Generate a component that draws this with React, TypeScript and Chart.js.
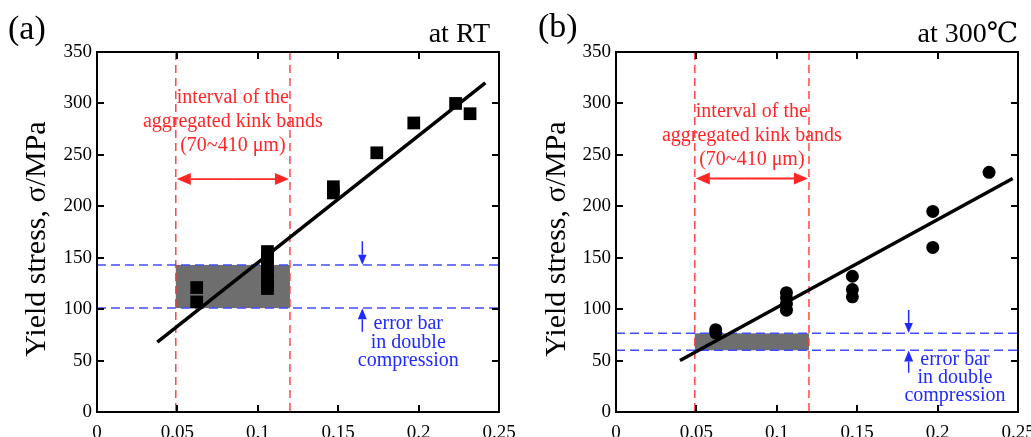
import { useEffect, useRef } from "react";
import { Chart, registerables } from "chart.js";

Chart.register(...registerables);

// ---------- data ----------
const xTicks = [0, 0.05, 0.1, 0.15, 0.2, 0.25];
const yTicks = [0, 50, 100, 150, 200, 250, 300, 350];

// (a) at RT
const rtX = [0.062, 0.062, 0.106, 0.106, 0.106, 0.106, 0.106, 0.106, 0.106, 0.147, 0.147, 0.174, 0.197, 0.223, 0.232];
const rtY = [121, 107, 156, 150, 143, 136, 129, 123, 120, 219, 213, 252, 281, 300, 290];
const rtFitX = [0.0375, 0.2415];
const rtFitY = [68, 320];
const rtKinkX = [0.049, 0.12];
const rtErrY = [101, 143];

// (b) at 300 ℃
const htX = [0.062, 0.062, 0.106, 0.106, 0.106, 0.106, 0.147, 0.147, 0.147, 0.197, 0.197, 0.232];
const htY = [80, 77, 116, 111, 105, 99, 132, 119, 112, 195, 160, 233];
const htFitX = [0.0398, 0.2467];
const htFitY = [50, 227];
const htKinkX = [0.049, 0.12];
const htErrY = [60, 76.5];

const kinkLabel = ["interval of the", "aggregated kink bands", "(70~410 μm)"];
const errLabel = ["error bar", "in double", "compression"];
const yTitle = "Yield stress, σ/MPa";

// ---------- styles ----------
const SERIF = "'Liberation Serif', 'Times New Roman', 'DejaVu Serif', serif";
const RED = "#ff2626";
const RED_LINE = "#ff3a3a";
const BLUE = "#1f2bff";
const BLUE_LINE = "#3f4fff";
const BAND = "#6e6e6e";

type Panel = {
  ptsX: number[];
  ptsY: number[];
  style: "rect" | "circle";
  radius: number;
  fitX: number[];
  fitY: number[];
  kinkX: number[];
  errY: number[];
  redArrowY: number;
  redTextY: number;
  blueArrowX: number;
  downArrow: number[];
  upArrow: number[];
  blueTextX: number;
  blueTextY: number;
  tag: string;
  tagX: number;
  tagBase: number;
  title: string;
  titleRight: number;
  yTitleX: number;
  plotLeft: number;
  padRight: number;
};

const panelA: Panel = {
  ptsX: rtX, ptsY: rtY, style: "rect", radius: 9,
  fitX: rtFitX, fitY: rtFitY, kinkX: rtKinkX, errY: rtErrY,
  redArrowY: 226.5, redTextY: 300.4,
  blueArrowX: 0.165, downArrow: [166, 143.2], upArrow: [78, 100.8],
  blueTextX: 0.1936, blueTextY: 80.4,
  tag: "(a)", tagX: 8, tagBase: 39,
  title: "at RT", titleRight: 490,
  yTitleX: 37, plotLeft: 97, padRight: 17,
};

const panelB: Panel = {
  ptsX: htX, ptsY: htY, style: "circle", radius: 6.5,
  fitX: htFitX, fitY: htFitY, kinkX: htKinkX, errY: htErrY,
  redArrowY: 227, redTextY: 287.1,
  blueArrowX: 0.182, downArrow: [99.2, 76.7], upArrow: [38.2, 59.8],
  blueTextX: 0.2108, blueTextY: 45.7,
  tag: "(b)", tagX: 22, tagBase: 37,
  title: "at 300℃", titleRight: 502,
  yTitleX: 41, plotLeft: 100, padRight: 13,
};

function arrow(ctx: CanvasRenderingContext2D, x1: number, y1: number, x2: number, y2: number, len: number, half: number) {
  const dx = x2 - x1, dy = y2 - y1;
  const d = Math.hypot(dx, dy) || 1;
  const ux = dx / d, uy = dy / d;
  const bx = x2 - ux * len, by = y2 - uy * len;
  ctx.beginPath();
  ctx.moveTo(x1, y1);
  ctx.lineTo(bx, by);
  ctx.stroke();
  ctx.beginPath();
  ctx.moveTo(x2, y2);
  ctx.lineTo(bx - uy * half, by + ux * half);
  ctx.lineTo(bx + uy * half, by - ux * half);
  ctx.closePath();
  ctx.fill();
}

function makePlugin(p: Panel) {
  return {
    id: "panelDecor",
    beforeDatasetsDraw(chart: any) {
      const { ctx, scales } = chart;
      const x = scales.x, y = scales.y;
      const x0 = x.getPixelForValue(p.kinkX[0]);
      const x1 = x.getPixelForValue(p.kinkX[1]);
      const yTop = y.getPixelForValue(p.errY[1]);
      const yBot = y.getPixelForValue(p.errY[0]);
      ctx.save();
      ctx.fillStyle = BAND;
      ctx.fillRect(x0, yTop, x1 - x0, yBot - yTop);
      ctx.restore();
    },
    afterDraw(chart: any) {
      const { ctx, chartArea: a, scales } = chart;
      const x = scales.x, y = scales.y;
      ctx.save();
      // frame
      ctx.strokeStyle = "#000";
      ctx.lineWidth = 2;
      ctx.strokeRect(a.left, a.top, a.right - a.left, a.bottom - a.top);
      // inward ticks on all sides
      const tl = 7;
      ctx.beginPath();
      for (const v of xTicks) {
        const px = Math.round(x.getPixelForValue(v));
        ctx.moveTo(px, a.bottom); ctx.lineTo(px, a.bottom - tl);
        ctx.moveTo(px, a.top); ctx.lineTo(px, a.top + tl);
      }
      for (const v of yTicks) {
        const py = Math.round(y.getPixelForValue(v));
        ctx.moveTo(a.left, py); ctx.lineTo(a.left + tl, py);
        ctx.moveTo(a.right, py); ctx.lineTo(a.right - tl, py);
      }
      ctx.stroke();

      // red double arrow
      const kx0 = x.getPixelForValue(p.kinkX[0]);
      const kx1 = x.getPixelForValue(p.kinkX[1]);
      const ay = y.getPixelForValue(p.redArrowY);
      const mid = (kx0 + kx1) / 2;
      ctx.strokeStyle = RED;
      ctx.fillStyle = RED;
      ctx.lineWidth = 1.8;
      arrow(ctx, mid, ay, kx0 + 1, ay, 14, 6);
      arrow(ctx, mid, ay, kx1 - 1, ay, 14, 6);

      // red text
      ctx.font = `20px ${SERIF}`;
      ctx.textAlign = "center";
      ctx.textBaseline = "alphabetic";
      const rty = y.getPixelForValue(p.redTextY);
      kinkLabel.forEach((s, i) => ctx.fillText(s, mid, rty + i * 24));

      // blue arrows
      const bx = x.getPixelForValue(p.blueArrowX);
      ctx.strokeStyle = BLUE;
      ctx.fillStyle = BLUE;
      ctx.lineWidth = 1.5;
      arrow(ctx, bx, y.getPixelForValue(p.downArrow[0]), bx, y.getPixelForValue(p.downArrow[1]), 10, 4.2);
      arrow(ctx, bx, y.getPixelForValue(p.upArrow[0]), bx, y.getPixelForValue(p.upArrow[1]), 11, 4.5);

      // blue text
      ctx.font = `20px ${SERIF}`;
      const btx = x.getPixelForValue(p.blueTextX);
      const bty = y.getPixelForValue(p.blueTextY);
      errLabel.forEach((s, i) => ctx.fillText(s, btx, bty + i * 18.2));

      // panel title and tag
      ctx.fillStyle = "#000";
      ctx.font = `28px ${SERIF}`;
      ctx.textAlign = "right";
      ctx.fillText(p.title, p.titleRight, 42);
      ctx.font = `34px ${SERIF}`;
      ctx.textAlign = "left";
      ctx.fillText(p.tag, p.tagX, p.tagBase);

      // y axis title
      ctx.save();
      ctx.translate(p.yTitleX, 239);
      ctx.rotate(-Math.PI / 2);
      ctx.font = `30px ${SERIF}`;
      ctx.textAlign = "center";
      ctx.textBaseline = "middle";
      ctx.fillText(yTitle, 0, 0);
      ctx.restore();

      ctx.restore();
    },
  };
}

function buildChart(canvas: HTMLCanvasElement, p: Panel) {
  const pts = p.ptsX.map((xv, i) => ({ x: xv, y: p.ptsY[i] }));
  const fit = p.fitX.map((xv, i) => ({ x: xv, y: p.fitY[i] }));
  const datasets: any[] = [
    {
      data: pts,
      showLine: false,
      pointStyle: p.style,
      pointRadius: p.radius,
      pointBackgroundColor: "#000",
      pointBorderColor: "#000",
      pointBorderWidth: 0,
    },
    {
      data: fit,
      showLine: true,
      borderColor: "#000",
      borderWidth: 3.5,
      pointRadius: 0,
    },
    ...p.errY.map((v) => ({
      data: [{ x: xTicks[0], y: v }, { x: xTicks[xTicks.length - 1], y: v }],
      showLine: true,
      borderColor: BLUE_LINE,
      borderWidth: 1.5,
      borderDash: [9, 5],
      pointRadius: 0,
    })),
    ...p.kinkX.map((v) => ({
      data: [{ x: v, y: yTicks[yTicks.length - 1] }, { x: v, y: yTicks[0] }],
      showLine: true,
      borderColor: RED_LINE,
      borderWidth: 1.4,
      borderDash: [8, 5],
      pointRadius: 0,
    })),
  ];
  return new Chart(canvas, {
    type: "scatter",
    data: { datasets },
    plugins: [makePlugin(p) as any],
    options: {
      animation: false,
      responsive: false,
      events: [],
      layout: { padding: { left: 0, top: 52, right: p.padRight, bottom: 0 } },
      plugins: { legend: { display: false }, tooltip: { enabled: false } },
      scales: {
        x: {
          type: "linear",
          min: xTicks[0],
          max: xTicks[xTicks.length - 1],
          grid: { display: false, drawTicks: false },
          border: { display: false },
          afterBuildTicks: (s: any) => { s.ticks = xTicks.map((v) => ({ value: v })); },
          afterFit: (s: any) => {
            s.height = 25;
            s.paddingLeft = 0; s.paddingRight = 0; s.paddingTop = 0; s.paddingBottom = 0;
          },
          ticks: {
            color: "#000",
            font: { family: SERIF, size: 19 },
            padding: 10,
            maxRotation: 0,
            minRotation: 0,
            autoSkip: false,
            callback: (v: any) => String(+Number(v).toFixed(2)),
          },
        },
        y: {
          type: "linear",
          min: yTicks[0],
          max: yTicks[yTicks.length - 1],
          grid: { display: false, drawTicks: false },
          border: { display: false },
          afterBuildTicks: (s: any) => { s.ticks = yTicks.map((v) => ({ value: v })); },
          afterFit: (s: any) => {
            s.width = p.plotLeft;
            s.paddingLeft = 0; s.paddingRight = 0; s.paddingTop = 0; s.paddingBottom = 0;
          },
          ticks: {
            color: "#000",
            font: { family: SERIF, size: 19 },
            padding: 5,
            autoSkip: false,
            callback: (v: any) => String(v),
          },
        },
      },
    } as any,
  });
}

function PanelChart({ p, left, width }: { p: Panel; left: number; width: number }) {
  const ref = useRef<HTMLCanvasElement | null>(null);
  useEffect(() => {
    let chart: Chart | null = null;
    let dead = false;
    const fonts = (document as any).fonts;
    const ready: Promise<any> = fonts && fonts.load
      ? Promise.all([
          fonts.load(`20px 'Liberation Serif'`),
          fonts.load(`20px 'DejaVu Serif'`),
        ]).catch(() => null)
      : Promise.resolve(null);
    ready.then(() => {
      if (dead || !ref.current) return;
      chart = buildChart(ref.current, p);
    });
    return () => {
      dead = true;
      if (chart) chart.destroy();
    };
  }, [p]);
  return (
    <canvas
      ref={ref}
      width={width}
      height={437}
      style={{ position: "absolute", left, top: 0, width, height: 437 }}
    />
  );
}

export default function App() {
  return (
    <div style={{ position: "absolute", left: 0, top: 0, width: 1031, height: 437, background: "#fff", overflow: "hidden" }}>
      <PanelChart p={panelA} left={0} width={516} />
      <PanelChart p={panelB} left={516} width={515} />
    </div>
  );
}
